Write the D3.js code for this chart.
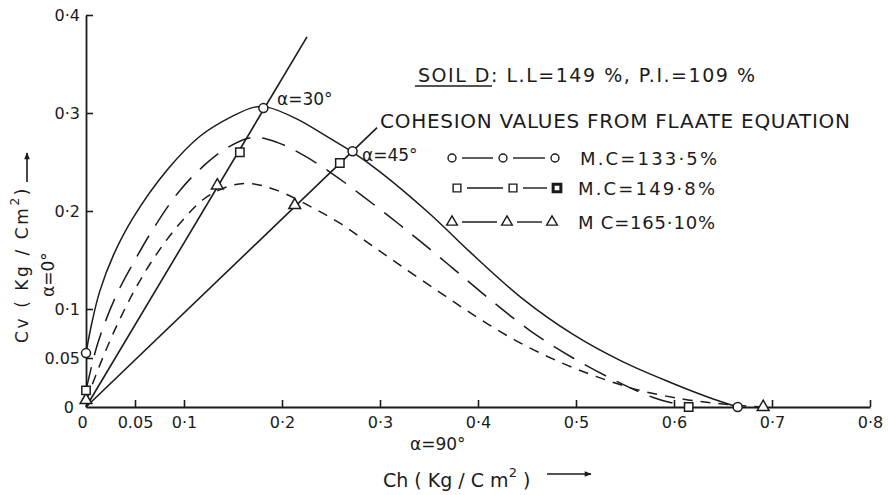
<!DOCTYPE html>
<html>
<head>
<meta charset="utf-8">
<script src="https://cdn.jsdelivr.net/npm/d3@7"></script>
<style>
  body { margin: 0; background: #fff; }
  svg { display: block; }
  text { font-family: "DejaVu Sans", sans-serif; fill: #1b1b1b; }
</style>
</head>
<body>
<div id="chart"></div>
<script>
// axis ticks
const xTicks = [0, 0.05, 0.1, 0.2, 0.3, 0.4, 0.5, 0.6, 0.7, 0.8];
const xTickLabels = ["0", "0.05", "0·1", "0·2", "0·3", "0·4", "0·5", "0·6", "0·7", "0·8"];
const yTicks = [0, 0.05, 0.1, 0.2, 0.3, 0.4];
const yTickLabels = ["0", "0.05", "0·1", "0·2", "0·3", "0·4"];

// curves: [Ch, Cv]
const mc1335 = [[0, 0.055], [0.006, 0.086], [0.014, 0.118], [0.028, 0.155], [0.048, 0.193], [0.083, 0.242],
  [0.116, 0.276], [0.150, 0.297], [0.172, 0.306], [0.185, 0.306], [0.215, 0.294], [0.249, 0.274],
  [0.272, 0.260], [0.300, 0.240], [0.351, 0.197], [0.392, 0.158], [0.446, 0.110], [0.497, 0.074],
  [0.548, 0.046], [0.599, 0.024], [0.635, 0.010], [0.665, 0]];
const mc1498 = [[0, 0.017], [0.012, 0.065], [0.030, 0.112], [0.050, 0.150], [0.070, 0.184], [0.095, 0.220],
  [0.120, 0.246], [0.145, 0.265], [0.170, 0.275], [0.195, 0.270], [0.220, 0.258], [0.250, 0.239],
  [0.280, 0.217], [0.310, 0.194], [0.340, 0.170], [0.375, 0.141], [0.412, 0.110], [0.453, 0.078],
  [0.497, 0.050], [0.540, 0.027], [0.578, 0.010], [0.615, 0]];
const mc1651 = [[0, 0.006], [0.015, 0.045], [0.030, 0.080], [0.050, 0.120], [0.070, 0.153], [0.093, 0.184],
  [0.120, 0.212], [0.145, 0.225], [0.168, 0.228], [0.195, 0.221], [0.232, 0.203], [0.260, 0.187],
  [0.290, 0.166], [0.320, 0.145], [0.361, 0.117], [0.400, 0.091], [0.440, 0.067], [0.481, 0.047],
  [0.521, 0.031], [0.565, 0.017], [0.610, 0.008], [0.650, 0.003], [0.691, 0]];

// plotted symbols
const circlePts = [[0, 0.055], [0.181, 0.305], [0.272, 0.261], [0.665, 0]];
const squarePts = [[0, 0.017], [0.157, 0.260], [0.259, 0.249], [0.615, 0]];
const trianglePts = [[0, 0.007], [0.134, 0.226], [0.213, 0.206], [0.691, 0]];

// alpha construction lines
const line30 = [[0, 0], [0.2255, 0.3776]];
const line45 = [[0, 0], [0.297, 0.285]];

const width = 888, height = 495;
const ink = "#1b1b1b";

const svg = d3.select("#chart").append("svg")
  .attr("width", width)
  .attr("height", height);

svg.append("defs").append("marker")
  .attr("id", "arrow")
  .attr("viewBox", "0 0 10 10")
  .attr("refX", 9).attr("refY", 5)
  .attr("markerWidth", 9).attr("markerHeight", 7)
  .attr("markerUnits", "userSpaceOnUse")
  .attr("orient", "auto")
  .append("path")
  .attr("d", "M0,1 L10,5 L0,9 Z")
  .attr("fill", ink);

const x = d3.scaleLinear().domain([0, 0.8]).range([86, 870]);
const y = d3.scaleLinear().domain([0, 0.4]).range([407, 15]);

// axes
const xAxis = svg.append("g")
  .attr("transform", `translate(0,${y(0)})`)
  .call(d3.axisBottom(x).tickValues(xTicks).tickSize(-7).tickSizeOuter(0).tickPadding(10)
    .tickFormat((d, i) => xTickLabels[i]));
const yAxis = svg.append("g")
  .attr("transform", `translate(${x(0)},0)`)
  .call(d3.axisLeft(y).tickValues(yTicks).tickSize(-7).tickSizeOuter(0).tickPadding(6)
    .tickFormat((d, i) => yTickLabels[i]));

[xAxis, yAxis].forEach(ax => {
  ax.select(".domain").attr("stroke", ink).attr("stroke-width", 1.8);
  ax.selectAll(".tick line").attr("stroke", ink).attr("stroke-width", 1.6);
  ax.selectAll(".tick text").attr("font-size", 16).attr("font-family", "DejaVu Sans").attr("fill", ink);
});
xAxis.selectAll(".tick").filter(d => d === 0).select("line").remove();
xAxis.selectAll(".tick").filter(d => d === 0).select("text").attr("dx", -4);
yAxis.selectAll(".tick").filter(d => d === 0).select("line").remove();
yAxis.selectAll(".tick").filter(d => d === 0).select("text").attr("dx", -6);

// construction lines
const straight = d3.line().x(d => x(d[0])).y(d => y(d[1]));
[line30, line45].forEach(l => {
  svg.append("path").attr("d", straight(l))
    .attr("fill", "none").attr("stroke", ink).attr("stroke-width", 1.6);
});

// curves
const curve = d3.line().x(d => x(d[0])).y(d => y(d[1])).curve(d3.curveCatmullRom.alpha(0.5));
const series = [
  { data: mc1335, dash: null },
  { data: mc1498, dash: "24,12" },
  { data: mc1651, dash: "10,8" }
];
series.forEach(s => {
  svg.append("path").attr("d", curve(s.data))
    .attr("fill", "none").attr("stroke", ink).attr("stroke-width", 1.5)
    .attr("stroke-dasharray", s.dash);
});

// symbols
function drawSymbols(pts, type, size) {
  svg.selectAll(null).data(pts).enter().append("path")
    .attr("transform", d => `translate(${x(d[0])},${y(d[1])})`)
    .attr("d", d3.symbol().type(type).size(size))
    .attr("fill", "#fff").attr("stroke", ink).attr("stroke-width", 1.5);
}
drawSymbols(trianglePts, d3.symbolTriangle, 60);
drawSymbols(squarePts, d3.symbolSquare, 70);
drawSymbols(circlePts, d3.symbolCircle, 64);

// angle labels
svg.append("text").attr("x", 277).attr("y", 105).attr("font-size", 17).text("α=30°");
svg.append("text").attr("x", 362).attr("y", 161).attr("font-size", 17).text("α=45°");
svg.append("text").attr("x", 410).attr("y", 450).attr("font-size", 17).text("α=90°");

// axis titles
const xt = svg.append("text").attr("x", 383).attr("y", 487).attr("font-size", 19);
xt.append("tspan").text("Ch ( Kg / C m");
xt.append("tspan").attr("dy", -10).attr("font-size", 13).text("2");
xt.append("tspan").attr("dy", 10).text(" )");
svg.append("line").attr("x1", 547).attr("x2", 591).attr("y1", 474).attr("y2", 474)
  .attr("stroke", ink).attr("stroke-width", 1.6).attr("marker-end", "url(#arrow)");

const yt = svg.append("text").attr("transform", "translate(28,343) rotate(-90)")
  .attr("font-size", 17).attr("letter-spacing", 2.6);
yt.append("tspan").text("Cv ( Kg / Cm");
yt.append("tspan").attr("dy", -9).attr("font-size", 12).text("2");
yt.append("tspan").attr("dy", 9).text(")");
svg.append("text").attr("transform", "translate(54,297) rotate(-90)")
  .attr("font-size", 17).text("α=0°");
svg.append("line").attr("x1", 27).attr("x2", 27).attr("y1", 182).attr("y2", 153)
  .attr("stroke", ink).attr("stroke-width", 1.6).attr("marker-end", "url(#arrow)");

// legend block
svg.append("text").attr("x", 418).attr("y", 82).attr("font-size", 19)
  .attr("textLength", 337).attr("lengthAdjust", "spacing")
  .text("SOIL D: L.L=149 %, P.I.=109 %");
svg.append("line").attr("x1", 415).attr("x2", 492).attr("y1", 86).attr("y2", 86)
  .attr("stroke", ink).attr("stroke-width", 1.4);
svg.append("text").attr("x", 380).attr("y", 128).attr("font-size", 20)
  .attr("textLength", 470).attr("lengthAdjust", "spacing")
  .text("COHESION VALUES FROM FLAATE EQUATION");

const legendRows = [
  { label: "M.C=133·5%", type: d3.symbolCircle, size: 50, xs: [452, 503, 555], y: 158, tx: 580 },
  { label: "M.C=149·8%", type: d3.symbolSquare, size: 60, xs: [457, 513, 557], y: 188, tx: 578 },
  { label: "M C=165·10%", type: d3.symbolTriangle, size: 50, xs: [452, 507, 552], y: 222, tx: 578 }
];
legendRows.forEach((r, ri) => {
  for (let i = 0; i < 2; i++) {
    svg.append("line").attr("x1", r.xs[i] + 10).attr("x2", r.xs[i + 1] - 10)
      .attr("y1", r.y).attr("y2", r.y).attr("stroke", ink).attr("stroke-width", 1.4);
  }
  r.xs.forEach((sx, i) => {
    svg.append("path").attr("transform", `translate(${sx},${r.y})`)
      .attr("d", d3.symbol().type(r.type).size(r.size))
      .attr("fill", "#fff").attr("stroke", ink)
      .attr("stroke-width", (ri === 1 && i === 2) ? 3 : 1.4);
  });
  svg.append("text").attr("x", r.tx).attr("y", r.y + 7).attr("font-size", 18)
    .attr("textLength", 137).attr("lengthAdjust", "spacing").text(r.label);
});
</script>
</body>
</html>
